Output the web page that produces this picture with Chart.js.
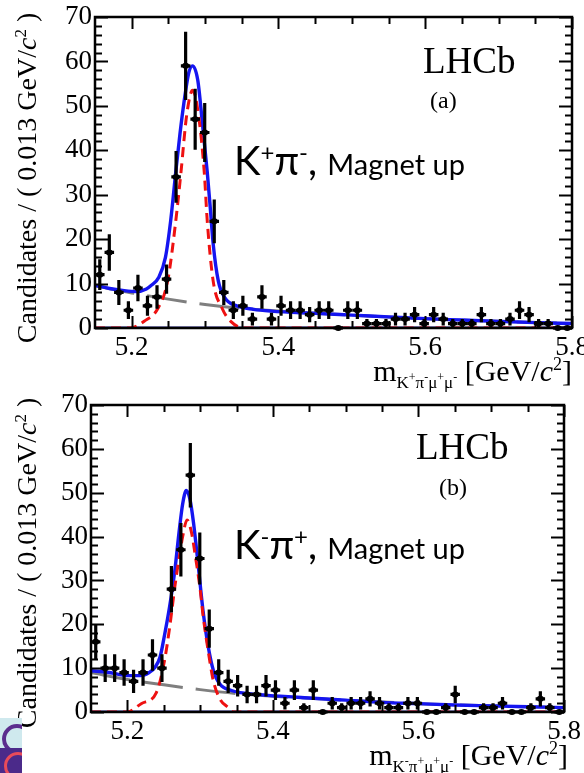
<!DOCTYPE html>
<html>
<head>
<meta charset="utf-8">
<title>B0 mass fits, magnet up</title>
<script src="https://cdn.jsdelivr.net/npm/chart.js@4.4.1/dist/chart.umd.min.js"></script>
<style>
  html, body { margin: 0; padding: 0; background: #fff; }
  body { position: relative; width: 584px; height: 773px; overflow: hidden; font-family: "Liberation Serif", "DejaVu Serif", serif; color: #000; }
  canvas { position: absolute; left: 0; }
  #chart-a { top: 0; }
  #chart-b { top: 385px; }
  .txt { position: absolute; white-space: nowrap; line-height: 1; }
  .ytitle { font-size: 28px; width: 340px; text-align: center; transform: rotate(-90deg); transform-origin: left top; }
  .xtitle { font-size: 30px; text-align: right; }
  .xtitle .sub { font-size: 17px; position: relative; top: 7px; }
  .xtitle .sub sup { font-size: 12px; }
  .lhcb { font-size: 37px; }
  .tag { font-size: 24px; }
  .mode { font-family: Lato, "Open Sans", sans-serif; font-size: 40px; }
  .mode sup { font-size: 24px; }
  .mode .small { font-size: 29px; }
  #logo-top { position: absolute; left: 0; top: 718px; width: 22px; height: 30px; background: #cfe9ee; overflow: hidden; }
  #logo-top div { position: absolute; left: 2px; top: 6px; width: 22px; height: 22px; border: 4px solid #5b2d8e; border-radius: 50%; }
  #logo-bot { position: absolute; left: 0; top: 748px; width: 22px; height: 25px; background: #4b2a8a; overflow: hidden; }
  #logo-bot div { position: absolute; left: 4px; top: 4px; width: 22px; height: 22px; border: 3px solid #e84b5a; border-radius: 50%; }
</style>
</head>
<body>
<canvas id="chart-a" width="584" height="388"></canvas>
<canvas id="chart-b" width="584" height="388"></canvas>

<div class="txt ytitle" style="left:12px; top:348px;">Candidates / ( 0.013 GeV/<i>c</i><sup style="font-size:17px">2</sup> )</div>
<div class="txt ytitle" style="left:12px; top:733px;">Candidates / ( 0.013 GeV/<i>c</i><sup style="font-size:17px">2</sup> )</div>

<div class="txt xtitle" style="right:12px; top:355px;">m<span class="sub">K<sup>+</sup>π<sup>-</sup>μ<sup>+</sup>μ<sup>-</sup></span> [GeV/<i>c</i><sup style="font-size:18px">2</sup>]</div>
<div class="txt xtitle" style="right:16px; top:739px;">m<span class="sub">K<sup>-</sup>π<sup>+</sup>μ<sup>+</sup>μ<sup>-</sup></span> [GeV/<i>c</i><sup style="font-size:18px">2</sup>]</div>

<div class="txt lhcb" style="left:423px; top:42px;">LHCb</div>
<div class="txt tag" style="left:430px; top:88px;">(a)</div>
<div class="txt lhcb" style="left:416px; top:428px;">LHCb</div>
<div class="txt tag" style="left:439px; top:475px;">(b)</div>

<div class="txt mode" style="left:234px; top:140px;">K<sup>+</sup>π<sup>-</sup>, <span class="small">Magnet up</span></div>
<div class="txt mode" style="left:234px; top:524px;">K<sup>-</sup>π<sup>+</sup>, <span class="small">Magnet up</span></div>

<div id="logo-top"><div></div></div>
<div id="logo-bot"><div></div></div>

<script>
// histogram binning (GeV/c^2)
const binLow = 5.15;
const binWidth = 0.013;

const xTickValues = [5.2, 5.4, 5.6, 5.8];
const yTickValues = [0, 10, 20, 30, 40, 50, 60, 70];

// candidates per bin, K+ pi- (a) and K- pi+ (b)
const countsA = [12, 17, 8, 4, 9, 5, 7, 11, 34, 59, 47, 44, 24, 8, 4, 5, 2, 7, 2, 5,
                 4, 4, 3, 4, 4, 0, 4, 4, 1, 1, 1, 2, 2, 3, 1, 3, 2, 1, 1, 1,
                 3, 1, 1, 2, 4, 3, 1, 1, 0, 0];
const countsB = [16, 10, 10, 9, 7, 9, 13, 10, 28, 37, 54, 35, 19, 9, 7, 6, 4, 4, 6, 5,
                 2, 5, 1, 5, 0, 2, 1, 2, 2, 3, 2, 1, 1, 2, 2, 0, 0, 1, 4, 0,
                 0, 1, 1, 2, 0, 0, 1, 3, 1, 0];

// total fit (blue)
const totalAx = [5.15, 5.17, 5.19, 5.207, 5.22, 5.226, 5.237, 5.246, 5.253, 5.26, 5.266, 5.271, 5.278, 5.283, 5.29, 5.296, 5.303, 5.307, 5.311, 5.318, 5.327, 5.343, 5.366, 5.39, 5.45, 5.5, 5.55, 5.6, 5.65, 5.7, 5.75, 5.8];
const totalAy = [9.6, 8.9, 8.4, 8.2, 8.8, 9.5, 11.4, 15.9, 24, 35, 44, 50.5, 57.6, 59, 55.8, 46.7, 35, 27.2, 19, 10.6, 6.8, 5.0, 4.2, 3.8, 3.3, 2.9, 2.5, 2.1, 1.8, 1.5, 1.2, 1.0];
const totalBx = [5.15, 5.175, 5.2, 5.218, 5.23, 5.238, 5.245, 5.251, 5.258, 5.265, 5.271, 5.276, 5.281, 5.286, 5.291, 5.297, 5.304, 5.311, 5.318, 5.327, 5.343, 5.366, 5.393, 5.45, 5.5, 5.55, 5.6, 5.65, 5.7, 5.75, 5.8];
const totalBy = [9.4, 9.0, 8.3, 8.3, 9.0, 10.2, 12.6, 17.5, 24, 32, 41, 47.5, 50.5, 48.5, 43, 34, 23, 15, 9.6, 6.4, 4.9, 4.2, 3.8, 3.2, 2.7, 2.2, 1.9, 1.6, 1.4, 1.2, 1.0];

// signal component (red dashed)
const signalAx = [5.15, 5.198, 5.217, 5.236, 5.249, 5.26, 5.267, 5.275, 5.283, 5.291, 5.299, 5.303, 5.311, 5.323, 5.335, 5.353, 5.8];
const signalAy = [0, 0, 1.5, 4.5, 10.6, 24, 34.8, 48, 53.5, 48, 34.8, 24, 10.6, 4.5, 1.5, 0, 0];
const signalBx = [5.15, 5.2, 5.219, 5.24, 5.251, 5.258, 5.265, 5.27, 5.276, 5.282, 5.288, 5.293, 5.3, 5.304, 5.311, 5.318, 5.327, 5.338, 5.346, 5.8];
const signalBy = [0, 0, 1.9, 4.5, 11.7, 19.2, 28.3, 34, 40, 43.8, 41, 36, 28, 22, 14, 7.2, 3, 1.1, 0, 0];

// combinatorial background (grey long dashes)
const bkgAx = [5.15, 5.2, 5.25, 5.3, 5.35, 5.4, 5.5, 5.6, 5.7, 5.8];
const bkgAy = [9.5, 7.9, 6.5, 5.3, 4.4, 3.8, 2.9, 2.1, 1.5, 1.0];
const bkgBx = [5.15, 5.2, 5.25, 5.3, 5.35, 5.4, 5.5, 5.6, 5.7, 5.8];
const bkgBy = [9.0, 7.4, 6.2, 5.1, 4.2, 3.6, 2.7, 1.9, 1.4, 1.0];

// flat component lying on the axis
const flatX = [5.15, 5.8];
const flatY = [0, 0];

const toPoints = (xs, ys) => xs.map((x, i) => ({ x: x, y: ys[i] }));

// draws the data crosses, the frame and the inward ROOT-style ticks
const histPlugin = {
  id: 'hist',
  afterDatasetsDraw(chart) {
    const { ctx, scales: { x, y } } = chart;
    const counts = chart.options.plugins.hist.counts;
    ctx.save();
    ctx.strokeStyle = '#000';
    ctx.fillStyle = '#000';
    ctx.lineWidth = 3.2;
    counts.forEach((n, i) => {
      const lo = binLow + i * binWidth;
      const xl = x.getPixelForValue(lo);
      const xr = x.getPixelForValue(lo + binWidth);
      const xc = (xl + xr) / 2;
      const yc = y.getPixelForValue(n);
      ctx.beginPath();
      ctx.moveTo(xl, yc);
      ctx.lineTo(xr, yc);
      if (n > 0) {
        const err = Math.sqrt(n);
        ctx.moveTo(xc, y.getPixelForValue(n + err));
        ctx.lineTo(xc, y.getPixelForValue(Math.max(n - err, 0)));
      }
      ctx.stroke();
      ctx.beginPath();
      ctx.ellipse(xc, yc, 3.5, 3, 0, 0, Math.PI * 2);
      ctx.fill();
    });
    ctx.restore();
  },
  afterDraw(chart) {
    const { ctx, chartArea: a, scales: { x, y } } = chart;
    ctx.save();
    ctx.strokeStyle = '#000';
    ctx.lineWidth = 2;
    ctx.beginPath();
    for (let v = 0; v <= 70; v += 2) {
      const py = Math.round(y.getPixelForValue(v)) + 0.5;
      const len = v % 10 === 0 ? 13 : 7;
      ctx.moveTo(a.left, py); ctx.lineTo(a.left + len, py);
      ctx.moveTo(a.right, py); ctx.lineTo(a.right - len, py);
    }
    for (let k = 0; k <= 12; k++) {
      const v = 5.2 + k * 0.05;
      if (v > 5.8001) break;
      const px = Math.round(x.getPixelForValue(v)) + 0.5;
      const len = k % 4 === 0 ? 12 : 7;
      ctx.moveTo(px, a.bottom); ctx.lineTo(px, a.bottom - len);
      ctx.moveTo(px, a.top); ctx.lineTo(px, a.top + len);
    }
    ctx.stroke();
    ctx.lineWidth = 2.5;
    ctx.strokeRect(a.left, a.top, a.right - a.left, a.bottom - a.top);
    ctx.restore();
  }
};

function makePanel(id, counts, tot, sig, bkg, box) {
  const c = document.getElementById(id);
  return new Chart(c.getContext('2d'), {
    type: 'scatter',
    data: {
      datasets: [
        { data: toPoints(sig[0], sig[1]), showLine: true, pointRadius: 0, borderColor: '#ee1111',
          borderWidth: 3, borderDash: [10, 6], cubicInterpolationMode: 'monotone', order: 1 },
        { data: toPoints(tot[0], tot[1]), showLine: true, pointRadius: 0, borderColor: '#1515f0',
          borderWidth: 3.4, cubicInterpolationMode: 'monotone', order: 2 },
        { data: toPoints(bkg[0], bkg[1]), showLine: true, pointRadius: 0, borderColor: '#7f7f7f',
          borderWidth: 3, borderDash: [40, 13], cubicInterpolationMode: 'monotone', order: 3 },
        { data: toPoints(flatX, flatY), showLine: true, pointRadius: 0, borderColor: '#12127a',
          borderWidth: 3, order: 4 }
      ]
    },
    options: {
      responsive: false,
      animation: false,
      devicePixelRatio: 1,
      layout: { padding: { top: box.top, right: box.right, left: 0, bottom: 0 } },
      plugins: {
        legend: { display: false },
        tooltip: { enabled: false },
        hist: { counts: counts }
      },
      scales: {
        x: {
          type: 'linear', min: 5.15, max: 5.8,
          border: { display: false },
          grid: { display: false, drawTicks: false },
          afterBuildTicks: s => { s.ticks = xTickValues.map(v => ({ value: v })); },
          afterFit: s => { s.height = box.xh; s.paddingLeft = 0; s.paddingRight = 0; },
          ticks: {
            color: '#000', padding: 4, maxRotation: 0, autoSkip: false,
            font: { family: 'Liberation Serif', size: 27 },
            callback: v => v.toFixed(1)
          }
        },
        y: {
          min: 0, max: 70,
          border: { display: false },
          grid: { display: false, drawTicks: false },
          afterBuildTicks: s => { s.ticks = yTickValues.map(v => ({ value: v })); },
          afterFit: s => { s.width = box.yw; s.paddingTop = 0; s.paddingBottom = 0; },
          ticks: {
            color: '#000', padding: 3, autoSkip: false,
            font: { family: 'Liberation Serif', size: 27 }
          }
        }
      }
    },
    plugins: [histPlugin]
  });
}

makePanel('chart-a', countsA, [totalAx, totalAy], [signalAx, signalAy], [bkgAx, bkgAy],
  { top: 17, right: 12, yw: 95, xh: 60 });
makePanel('chart-b', countsB, [totalBx, totalBy], [signalBx, signalBy], [bkgBx, bkgBy],
  { top: 20, right: 20, yw: 91, xh: 61 });
</script>
</body>
</html>
